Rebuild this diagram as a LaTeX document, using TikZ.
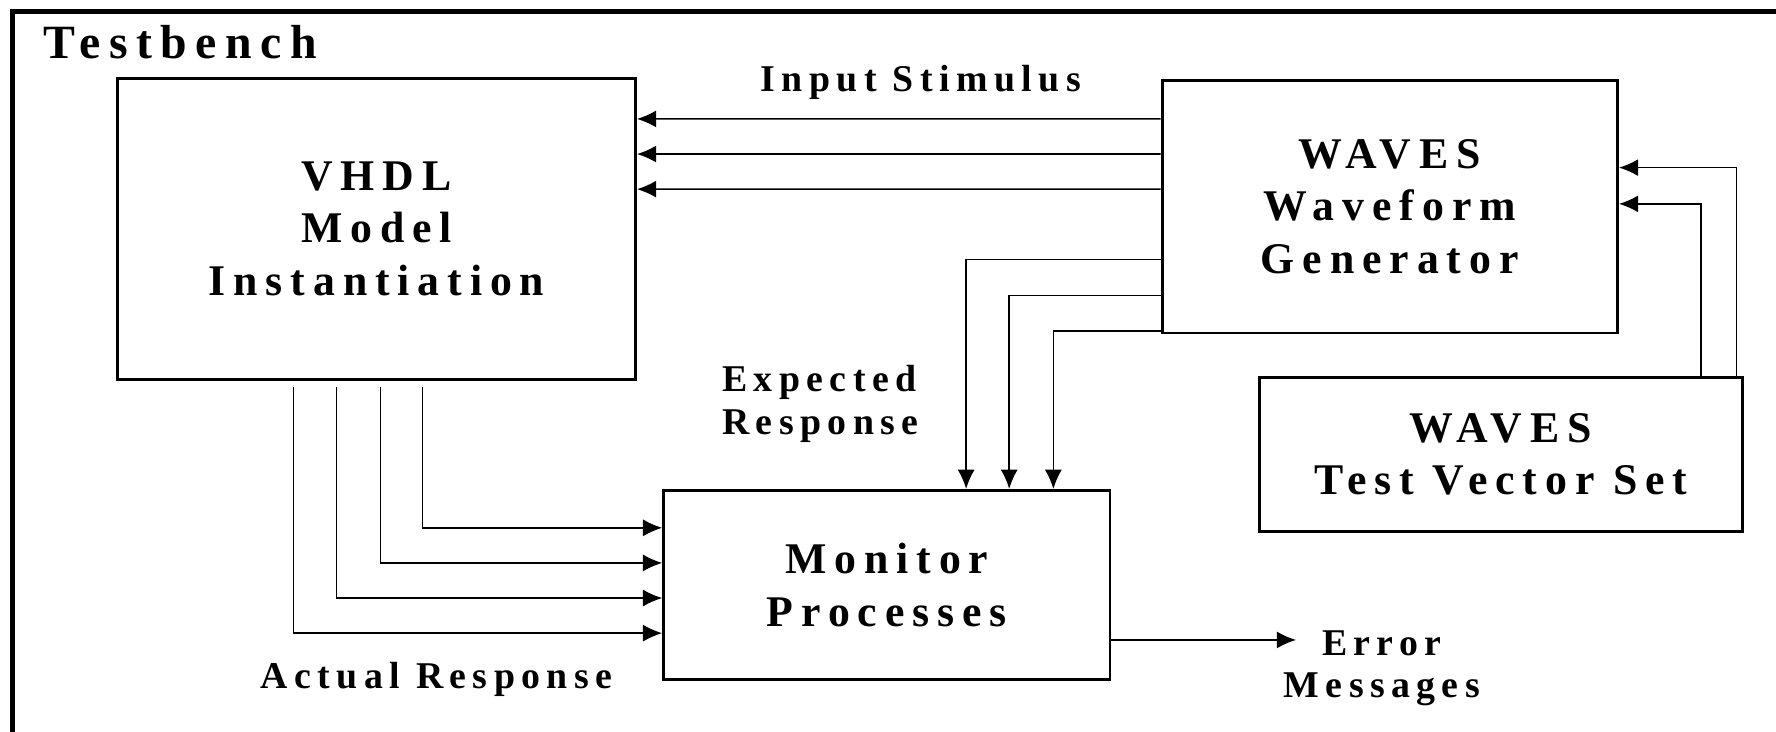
\documentclass[tikz,border=0pt]{standalone}
\usepackage{fontspec}
\setmainfont{Liberation Serif}
\newfontfamily\blockfont{Liberation Serif}[LetterSpace=18]
\newfontfamily\labelfont{Liberation Serif}[LetterSpace=17]
\usetikzlibrary{arrows.meta}

\begin{document}
\begin{tikzpicture}[x=0.1mm, y=-0.1mm,
        block/.style = {draw, line width=0.75pt, inner sep=0, align=center,
            font=\blockfont\bfseries\fontsize{11}{13.2}\selectfont},
        lbl/.style = {inner sep=0, font=\labelfont\bfseries\fontsize{9.5}{10.7}\selectfont},
        title/.style = {anchor=base west, inner sep=0,
            font=\blockfont\bfseries\fontsize{12}{14}\selectfont},
        sig/.style = {line width=0.4pt, -{Latex[length=1.7mm, width=1.5mm]}},
        frame/.style = {line width=1.1pt}]
    \useasboundingbox (0,0) rectangle (1568,646);
    \draw[frame] (1568,10) -| (11,646);
    \node[title] (tb) at (37.5,51.5) {Testbench};

    \node[block, minimum width=45.7mm, minimum height=26.6mm] (vhdl) at (332.5,202) {VHDL\\Model\\Instantiation};
    \node[block, minimum width=40.2mm, minimum height=22.3mm] (wavegen) at (1227,182.5) {WAVES\\Waveform\\Generator};
    \node[block, minimum width=42.6mm, minimum height=13.6mm] (tvs) at (1325,401) {WAVES\\Test Vector Set};
    \node[block, minimum width=39.4mm, minimum height=16.7mm] (monitor) at (783,516.5) {Monitor\\Processes};

    % input stimulus
    \draw[sig] ([yshift=7.75mm]wavegen.west) -- ([yshift=9.7mm]vhdl.east);
    \draw[sig] ([yshift=4.65mm]wavegen.west) -- ([yshift=6.6mm]vhdl.east);
    \draw[sig] ([yshift=1.55mm]wavegen.west) -- ([yshift=3.5mm]vhdl.east);

    % expected response
    \draw[sig] ([yshift=-4.65mm]wavegen.west) -| ([xshift=7mm]monitor.north);
    \draw[sig] ([yshift=-7.85mm]wavegen.west) -| ([xshift=10.8mm]monitor.north);
    \draw[sig] ([yshift=-10.95mm]wavegen.west) -| ([xshift=14.7mm]monitor.north);

    % actual response
    \draw[sig] ([xshift=-7.35mm, yshift=-0.5mm]vhdl.south) |- ([yshift=-4.25mm]monitor.west);
    \draw[sig] ([xshift=-3.55mm, yshift=-0.5mm]vhdl.south) |- ([yshift=-1.15mm]monitor.west);
    \draw[sig] ([xshift=0.35mm, yshift=-0.5mm]vhdl.south) |- ([yshift=1.95mm]monitor.west);
    \draw[sig] ([xshift=4.05mm, yshift=-0.5mm]vhdl.south) |- ([yshift=5.05mm]monitor.west);

    % error messages
    \coordinate (errtip) at ([xshift=16.3mm, yshift=-4.85mm]monitor.east);
    \draw[sig] ([yshift=-4.85mm]monitor.east) -- (errtip);

    % test vectors
    \draw[sig] ([xshift=20.8mm]tvs.north) |- ([yshift=3.45mm]wavegen.east);
    \draw[sig] ([xshift=17.7mm]tvs.north) |- ([yshift=0.25mm]wavegen.east);

    \node[lbl, anchor=base] (stim) at (813,81) {Input Stimulus};
    \node[lbl, anchor=north west, align=left] (expect) at (637,322) {Expected\\Response};
    \node[lbl, anchor=base] (actual) at (385.5,608) {Actual Response};
    \node[lbl, anchor=north, align=center] (errmsg) at (1220,556) {Error\\Messages};
\end{tikzpicture}
\end{document}
